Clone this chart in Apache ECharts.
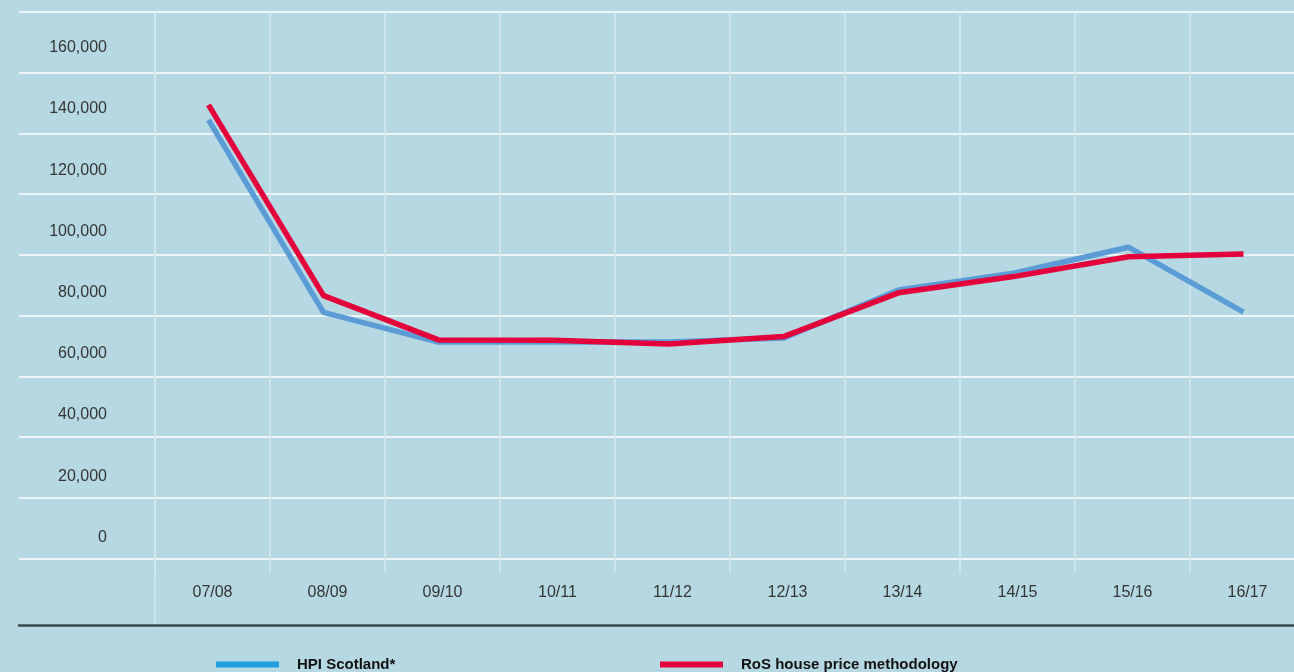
<!DOCTYPE html>
<html>
<head>
<meta charset="utf-8">
<script src="https://cdn.jsdelivr.net/npm/echarts@6/dist/echarts.min.js"></script>
<style>
  html, body { margin: 0; padding: 0; background: #b6d8e3; }
  #chart { width: 1294px; height: 672px; }
</style>
</head>
<body>
<div id="chart"></div>
<script>
// Financial years on the horizontal axis
const categories = ['07/08', '08/09', '09/10', '10/11', '11/12', '12/13', '13/14', '14/15', '15/16', '16/17'];

// Average house price, £
const hpiScotland = [136400, 73500, 63800, 63800, 63800, 65100, 80800, 86300, 94800, 73600];
const rosMethodology = [141300, 79000, 64500, 64400, 63200, 65600, 79900, 85200, 91700, 92600];

// Value axis range and step
const yMin = 0;
const yMax = 160000;
const yStep = 20000;

const seriesNames = ['HPI Scotland*', 'RoS house price methodology'];

const FONT = '"Liberation Sans", Arial, Helvetica, sans-serif';
const BG = '#b6d8e3';
const GRID_WHITE = '#ffffff';
const COLUMN_LINE = '#d4e8ef';
const LABEL_COLOR = '#353535';

const chart = echarts.init(document.getElementById('chart'), null, { renderer: 'canvas' });

const hidden = { show: false };

// Year columns run past the right edge of the page
const COLUMN_SPAN = 1150;

const gridBase = { outerBoundsMode: 'none', containLabel: false };

chart.setOption({
  backgroundColor: BG,
  animation: false,
  textStyle: { fontFamily: FONT },
  grid: [
    // 0: horizontal rules across the plot
    Object.assign({ left: 19, right: 0, top: 12, bottom: 113.5 }, gridBase),
    // 1: column rules and year labels
    Object.assign({ left: 155, width: COLUMN_SPAN, top: 12, bottom: 99 }, gridBase),
    // 2: long rule separating value labels from the plot
    Object.assign({ left: 155, right: 0, top: 12, bottom: 48 }, gridBase),
    // 3: dark base rule
    Object.assign({ left: 19, right: 0, top: 12, bottom: 47 }, gridBase),
    // 4: data area
    Object.assign({ left: 151, width: COLUMN_SPAN, top: 47.7, bottom: 134.7 }, gridBase)
  ],
  xAxis: [
    { gridIndex: 0, type: 'value', min: 0, max: 1, show: false },
    {
      gridIndex: 1, type: 'category', data: categories, boundaryGap: true,
      axisLine: hidden, axisTick: hidden,
      axisLabel: { margin: 11.5, fontSize: 16, color: LABEL_COLOR, fontFamily: FONT },
      splitLine: {
        show: true, interval: 0, showMaxLine: false,
        lineStyle: { color: COLUMN_LINE, width: 1.5 }
      }
    },
    { gridIndex: 2, type: 'value', min: 0, max: 1, show: false },
    {
      gridIndex: 3, type: 'value', min: 0, max: 1,
      axisLine: { show: true, onZero: false, lineStyle: { color: '#3b4a51', width: 2.5 } },
      axisTick: hidden, axisLabel: hidden, splitLine: hidden
    },
    { gridIndex: 4, type: 'category', data: categories, boundaryGap: true, show: false }
  ],
  yAxis: [
    {
      gridIndex: 0, type: 'value', min: 0, max: 9, interval: 1,
      axisLine: hidden, axisTick: hidden, axisLabel: hidden,
      splitLine: { show: true, lineStyle: { color: GRID_WHITE, width: 1.6 } }
    },
    { gridIndex: 1, type: 'value', min: 0, max: 1, show: false },
    {
      gridIndex: 2, type: 'value', min: 0, max: 1,
      axisLine: { show: true, onZero: false, lineStyle: { color: COLUMN_LINE, width: 1.5 } },
      axisTick: hidden, axisLabel: hidden, splitLine: hidden
    },
    { gridIndex: 3, type: 'value', min: 0, max: 1, show: false },
    {
      gridIndex: 4, type: 'value', min: yMin, max: yMax, interval: yStep,
      axisLine: hidden, axisTick: hidden, splitLine: hidden,
      axisLabel: {
        margin: 44, fontSize: 16, color: LABEL_COLOR, fontFamily: FONT,
        formatter: v => v.toLocaleString('en-US')
      }
    }
  ],
  legend: [
    {
      left: 216, top: 657, padding: 0, icon: 'rect', itemWidth: 63, itemHeight: 6,
      selectedMode: false,
      data: [{ name: seriesNames[0], itemStyle: { color: '#1fa0dc' } }],
      textStyle: { fontFamily: FONT, fontWeight: 'bold', fontSize: 15, color: '#111', padding: [0, 0, 0, 13] }
    },
    {
      left: 660, top: 657, padding: 0, icon: 'rect', itemWidth: 63, itemHeight: 6,
      selectedMode: false,
      data: [{ name: seriesNames[1], itemStyle: { color: '#e4003b' } }],
      textStyle: { fontFamily: FONT, fontWeight: 'bold', fontSize: 15, color: '#111', padding: [0, 0, 0, 13] }
    }
  ],
  series: [
    {
      name: seriesNames[0], type: 'line', xAxisIndex: 4, yAxisIndex: 4,
      data: hpiScotland, showSymbol: false, symbol: 'none', z: 3,
      itemStyle: { color: '#5b9cd6' },
      lineStyle: { color: '#5b9cd6', width: 5.5 }
    },
    {
      name: seriesNames[1], type: 'line', xAxisIndex: 4, yAxisIndex: 4,
      data: rosMethodology, showSymbol: false, symbol: 'none', z: 4,
      itemStyle: { color: '#e4003b' },
      lineStyle: { color: '#e4003b', width: 5.5 }
    }
  ]
});
</script>
</body>
</html>
